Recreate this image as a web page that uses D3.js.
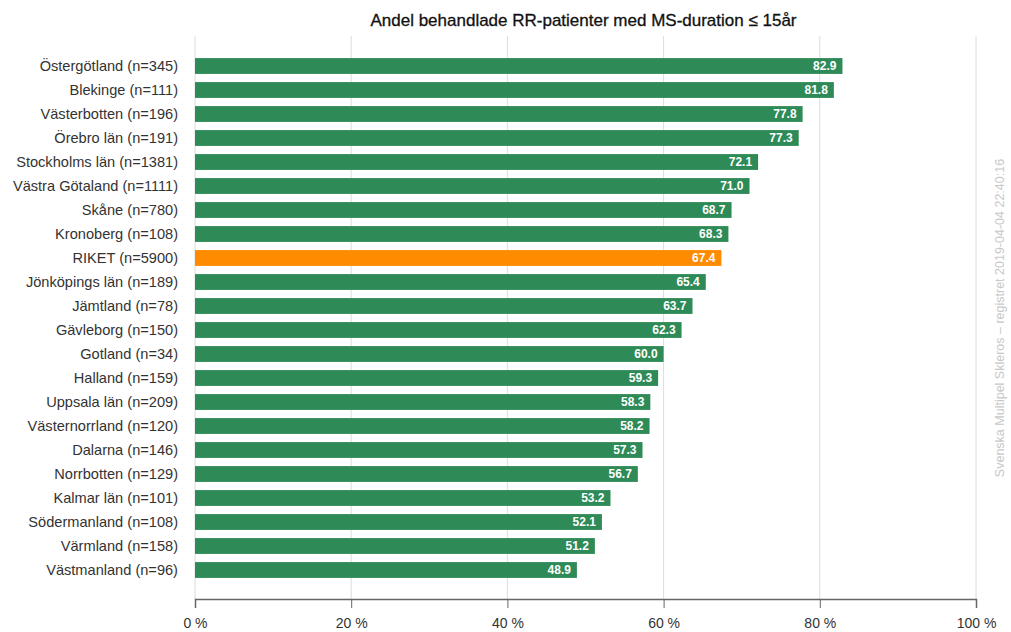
<!DOCTYPE html>
<html>
<head>
<meta charset="utf-8">
<script src="https://cdn.jsdelivr.net/npm/d3@7"></script>
<style>
  html, body { margin: 0; padding: 0; background: #fff; }
  svg { display: block; font-family: "Liberation Sans", Arial, Helvetica, sans-serif; }
</style>
</head>
<body>
<svg id="chart" width="1011" height="632"></svg>
<script>
// Regions with patient counts and share treated (%)
const regions = [
  "Östergötland (n=345)", "Blekinge (n=111)", "Västerbotten (n=196)", "Örebro län (n=191)",
  "Stockholms län (n=1381)", "Västra Götaland (n=1111)", "Skåne (n=780)", "Kronoberg (n=108)",
  "RIKET (n=5900)", "Jönköpings län (n=189)", "Jämtland (n=78)", "Gävleborg (n=150)",
  "Gotland (n=34)", "Halland (n=159)", "Uppsala län (n=209)", "Västernorrland (n=120)",
  "Dalarna (n=146)", "Norrbotten (n=129)", "Kalmar län (n=101)", "Södermanland (n=108)",
  "Värmland (n=158)", "Västmanland (n=96)"
];
const shares = [
  82.9, 81.8, 77.8, 77.3, 72.1, 71.0, 68.7, 68.3, 67.4, 65.4, 63.7,
  62.3, 60.0, 59.3, 58.3, 58.2, 57.3, 56.7, 53.2, 52.1, 51.2, 48.9
];
const nationalLabel = "RIKET (n=5900)";
const xTicks = [0, 20, 40, 60, 80, 100];
const titleText = "Andel behandlade RR-patienter med MS-duration \u2264 15år";
const sourceText = "Svenska Multipel Skleros \u2013 registret 2019-04-04 22:40:16";

const data = regions.map((r, i) => ({ region: r, value: shares[i] }));

const svg = d3.select("#chart");
const plotLeft = 195, plotRight = 976, plotTop = 54, plotBottom = 582, axisY = 599;

const x = d3.scaleLinear().domain([0, 100]).range([plotLeft, plotRight]);
const y = d3.scaleBand().domain(regions).range([plotTop, plotBottom]).paddingInner(0.34).paddingOuter(0.17);

// title
svg.append("text")
  .attr("x", (plotLeft + plotRight) / 2 - 2).attr("y", 26)
  .attr("text-anchor", "middle")
  .attr("font-size", 17).attr("fill", "#111")
  .attr("stroke", "#111").attr("stroke-width", 0.3)
  .text(titleText);

// vertical gridlines
svg.append("g").selectAll("line").data(xTicks).join("line")
  .attr("x1", d => x(d)).attr("x2", d => x(d))
  .attr("y1", 36).attr("y2", axisY)
  .attr("stroke", "#dcdcdc").attr("stroke-width", 1);

// bars
svg.append("g").selectAll("rect").data(data).join("rect")
  .attr("x", x(0))
  .attr("y", d => y(d.region))
  .attr("width", d => x(d.value) - x(0))
  .attr("height", y.bandwidth())
  .attr("fill", d => d.region === nationalLabel ? "#ff8c00" : "#2e8b57");

// value labels inside bars
svg.append("g").selectAll("text").data(data).join("text")
  .attr("x", d => x(d.value) - 6)
  .attr("y", d => y(d.region) + y.bandwidth() / 2)
  .attr("dy", "0.36em")
  .attr("text-anchor", "end")
  .attr("font-size", 12).attr("font-weight", "bold").attr("fill", "#fff")
  .text(d => d.value.toFixed(1));

// category labels
svg.append("g").selectAll("text").data(data).join("text")
  .attr("x", plotLeft - 17)
  .attr("y", d => y(d.region) + y.bandwidth() / 2)
  .attr("dy", "0.36em")
  .attr("text-anchor", "end")
  .attr("font-size", 14.6).attr("fill", "#333")
  .text(d => d.region);

// x axis
const axis = svg.append("g")
  .attr("transform", `translate(0,${axisY})`)
  .call(d3.axisBottom(x).tickValues(xTicks).tickSize(9).tickPadding(10).tickFormat(d => d + " %"));
axis.select(".domain").attr("stroke", "#666").attr("stroke-width", 1.5);
axis.selectAll(".tick line").attr("stroke", "#666");
axis.selectAll(".tick text")
  .attr("font-size", 14).attr("fill", "#333")
  .attr("font-family", "'Liberation Sans', Arial, sans-serif");

// source note, rotated along the right edge
svg.append("text")
  .attr("transform", `translate(1004,318) rotate(-90)`)
  .attr("text-anchor", "middle")
  .attr("font-size", 12.5).attr("fill", "#c8c8c8")
  .text(sourceText);
</script>
</body>
</html>
